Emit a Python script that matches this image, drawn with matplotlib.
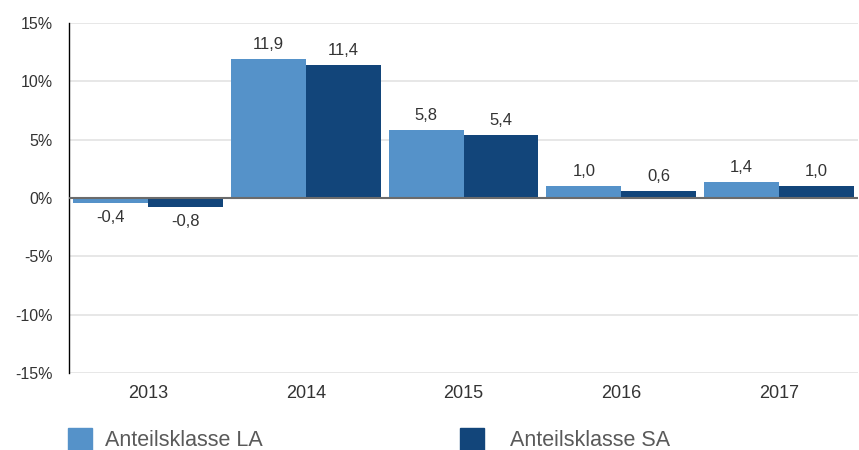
import matplotlib
matplotlib.use("Agg")
import matplotlib.pyplot as plt
import numpy as np
from matplotlib.patches import Rectangle

plt.rcParams['font.family'] = ['Liberation Sans', 'DejaVu Sans']

years = ["2013", "2014", "2015", "2016", "2017"]
la_values = [-0.4, 11.9, 5.8, 1.0, 1.4]
sa_values = [-0.8, 11.4, 5.4, 0.6, 1.0]
series_names = ["Anteilsklasse LA", "Anteilsklasse SA"]
yticks = [-15, -10, -5, 0, 5, 10, 15]

c_la = "#5592c9"
c_sa = "#12457a"
txt = "#333333"

fig = plt.figure(figsize=(8.59, 4.5), dpi=100)
ax = fig.add_axes([69/859, 1-373/450, (858-69)/859, (373-23)/450])

x = np.arange(len(years))
w = 0.475
ax.bar(x - w/2, la_values, w, color=c_la, zorder=3)
ax.bar(x + w/2, sa_values, w, color=c_sa, zorder=3)

ax.set_xlim(-0.5, 4.5)
ax.set_ylim(-15, 15)
ax.set_yticks(yticks)
ax.set_yticklabels([f"{t}%" for t in yticks], fontsize=11.5, color=txt)
ax.set_xticks(x)
ax.set_xticklabels(years, fontsize=13, color=txt)
ax.tick_params(axis='both', length=0)
ax.tick_params(axis='y', pad=11.5)
ax.tick_params(axis='x', pad=9)
for t in yticks:
    if t != 0:
        ax.axhline(t, color="#e3e3e3", lw=1.2, zorder=1)
ax.axhline(0, color="#6b6b6b", lw=1.5, zorder=4)

for s in ["top", "right", "bottom"]:
    ax.spines[s].set_visible(False)
ax.spines["left"].set_color("black")
ax.spines["left"].set_linewidth(1)

def fmt(v):
    return f"{v:.1f}".replace(".", ",")

for xs, vals in [(x - w/2, la_values), (x + w/2, sa_values)]:
    for xi, v in zip(xs, vals):
        if v >= 0:
            ax.annotate(fmt(v), (xi, v), xytext=(0, 5), textcoords="offset points",
                        ha="center", va="bottom", fontsize=12, color=txt)
        else:
            ax.annotate(fmt(v), (xi, v), xytext=(0, -5), textcoords="offset points",
                        ha="center", va="top", fontsize=12, color=txt)

# legend
for (px, tx, col, name) in [(68, 105, c_la, series_names[0]), (460, 510, c_sa, series_names[1])]:
    fig.patches.append(Rectangle((px/859, 1-451/450), 24/859, 23/450, color=col,
                                 transform=fig.transFigure, figure=fig))
    fig.text(tx/859, 1-440/450, name, fontsize=15.5, color="#5a5a5a", va="center", ha="left")

fig.savefig("out.png", dpi=100)
